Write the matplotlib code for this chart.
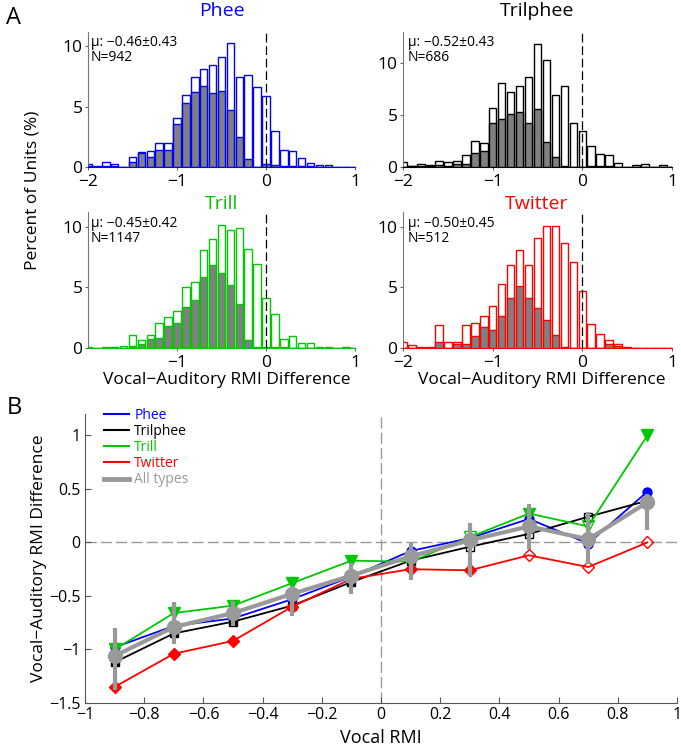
import numpy as np
import matplotlib
matplotlib.use('Agg')
import matplotlib.pyplot as plt
from matplotlib.lines import Line2D
from matplotlib.ticker import FuncFormatter

plt.rcParams['font.family'] = ['Open Sans', 'DejaVu Sans']
plt.rcParams['axes.unicode_minus'] = True

# ---- panel A: histograms of vocal-auditory RMI difference (percent of units)
bin_centers = [-2.0, -1.9, -1.8, -1.7, -1.6, -1.5, -1.4, -1.3, -1.2, -1.1,
               -1.0, -0.9, -0.8, -0.7, -0.6, -0.5, -0.4, -0.3, -0.2, -0.1,
               0.0, 0.1, 0.2, 0.3, 0.4, 0.5, 0.6, 0.7, 0.8, 0.9, 1.0]

phee_all = [0.22, 0.05, 0.44, 0.22, 0.03, 0.85, 1.27, 1.35, 2.0, 2.0, 4.05, 6.0, 7.5, 8.1, 8.5, 9.1,
            10.25, 7.5, 7.6, 6.6, 5.85, 2.95, 1.45, 1.35, 0.77, 0.36, 0.17, 0.14, 0, 0, 0]
phee_sub = [0.05, 0, 0.1, 0.05, 0, 0.44, 1.2, 0.85, 1.38, 1.38, 3.6, 5.3, 6.25, 6.75, 6.1, 6.3,
            4.7, 2.5, 0.63, 0, 0.28, 0.2, 0.05, 0.1, 0.05, 0.05, 0, 0, 0, 0, 0]
trilphee_all = [0.5, 0.05, 0.25, 0.2, 0.6, 0.45, 0.55, 1.2, 2.55, 2.35, 5.7, 8.1, 7.2, 7.8, 8.7, 11.85,
                10.3, 6.9, 7.8, 4.2, 3.5, 2.0, 1.3, 1.15, 0.35, 0, 0.15, 0.3, 0, 0.15, 0]
trilphee_sub = [0, 0.05, 0.05, 0.1, 0.2, 0.1, 0.3, 0.3, 1.35, 1.5, 4.2, 4.65, 5.1, 5.3, 4.2, 5.6,
                2.4, 0.95, 0.05, 0, 0, 0.05, 0.05, 0.05, 0, 0, 0, 0, 0, 0, 0]
trill_all = [0.1, 0.02, 0.05, 0.05, 0.2, 1.05, 0.7, 1.1, 2.1, 2.55, 3.05, 5.0, 5.45, 8.05, 8.95, 10.1,
             9.7, 9.85, 8.15, 6.9, 4.15, 2.8, 0.75, 0.95, 0.4, 0.4, 0.1, 0.05, 0, 0.1, 0]
trill_sub = [0, 0, 0, 0, 0, 0.15, 0.3, 0.77, 0.83, 1.8, 2.1, 3.4, 3.95, 5.85, 6.8, 6.2,
             5.2, 3.6, 0.7, 0.05, 0.05, 0.05, 0.05, 0, 0, 0, 0, 0, 0, 0, 0]
twitter_all = [0.5, 0.25, 0.1, 0.1, 1.9, 0.5, 0.5, 1.9, 2.1, 2.65, 3.5, 5.3, 6.85, 8.05, 6.85, 9.05,
               10.05, 10.05, 8.65, 7.1, 4.7, 1.95, 1.15, 0.7, 0.35, 0.05, 0, 0, 0, 0, 0]
twitter_sub = [0, 0, 0, 0, 0.5, 0, 0.33, 0.33, 0.95, 1.7, 1.5, 2.65, 4.1, 5.1, 4.1, 3.3,
               2.3, 1.1, 0.1, 0, 0, 0, 0, 0.3, 0.15, 0, 0, 0, 0, 0, 0]

call_names = ['Phee', 'Trilphee', 'Trill', 'Twitter']
call_colors = ['#0000ff', '#000000', '#00c800', '#ff0000']
stats_text = ['\u03bc: \u22120.46\u00b10.43\nN=942', '\u03bc: \u22120.52\u00b10.43\nN=686',
              '\u03bc: \u22120.45\u00b10.42\nN=1147', '\u03bc: \u22120.50\u00b10.45\nN=512']
hist_all = [phee_all, trilphee_all, trill_all, twitter_all]
hist_sub = [phee_sub, trilphee_sub, trill_sub, twitter_sub]
hist_ytop = [11.2, 13.0, 11.2, 11.2]
hist_xticks = [[-2, -1, 0, 1], [-2, -1, 0, 1], [-1, 0, 1], [-2, -1, 0, 1]]

# ---- panel B: RMI difference vs vocal RMI
vocal_rmi = [-0.9, -0.7, -0.5, -0.3, -0.1, 0.1, 0.3, 0.5, 0.7, 0.9]
phee_diff = [-0.98, -0.78, -0.71, -0.53, -0.32, -0.08, 0.04, 0.22, -0.01, 0.475]
trilphee_diff = [-1.12, -0.85, -0.74, -0.59, -0.37, -0.17, -0.04, 0.08, 0.24, 0.39]
trill_diff = [-1.0, -0.66, -0.59, -0.38, -0.17, -0.18, 0.05, 0.27, 0.15, 1.0]
twitter_diff = [-1.35, -1.04, -0.92, -0.6, -0.34, -0.25, -0.26, -0.12, -0.23, 0.0]
all_diff = [-1.06, -0.79, -0.66, -0.48, -0.31, -0.13, 0.02, 0.15, 0.03, 0.375]
all_lo = [-1.38, -0.95, -0.78, -0.69, -0.48, -0.35, -0.31, -0.06, -0.2, 0.12]
all_hi = [-0.8, -0.56, -0.55, -0.41, -0.19, 0.0, 0.18, 0.36, 0.28, 0.45]
# 1 = filled marker, 0 = open marker
phee_filled = [1, 1, 1, 1, 1, 1, 0, 1, 0, 1]
trilphee_filled = [1, 1, 1, 1, 1, 1, 0, 0, 0, 0]
trill_filled = [1, 1, 1, 1, 1, 1, 0, 1, 0, 1]
twitter_filled = [1, 1, 1, 1, 1, 1, 1, 0, 0, 0]

W, H = 681, 750
fig = plt.figure(figsize=(W / 100, H / 100), dpi=100)


def box(l, t, r, b):
    return [l / W, 1 - b / H, (r - l) / W, (b - t) / H]


hist_boxes = [box(88, 32, 355, 167), box(403, 32, 672, 167),
              box(88, 212, 355, 348), box(403, 212, 672, 348)]
title_pos = [(222, 11), (537, 11), (222, 204), (537, 204)]
stats_pos = [(91, 35), (408, 35), (91, 216), (408, 216)]

for i in range(4):
    ax = fig.add_axes(hist_boxes[i])
    c = call_colors[i]
    ax.bar(bin_centers, hist_all[i], width=0.085, color='white', edgecolor=c, linewidth=1.0, zorder=2)
    ax.bar(bin_centers, hist_sub[i], width=0.085, color='#808080', edgecolor=c, linewidth=1.0, zorder=3)
    ax.axvline(0, color='k', lw=0.9, dashes=(7, 3), zorder=4)
    ax.set_xlim(-2, 1)
    ax.set_ylim(0, hist_ytop[i])
    ax.set_xticks(hist_xticks[i])
    ax.set_yticks([0, 5, 10])
    ax.tick_params(labelsize=12.5, length=2, width=0.8, color='#666666', pad=2)
    ax.tick_params(axis='x', pad=3)
    ax.xaxis.set_major_formatter(FuncFormatter(lambda v, p: '%g' % v if v >= 0 else '\u2212%g' % -v))
    for s in ['top', 'right']:
        ax.spines[s].set_visible(False)
    ax.spines['left'].set_color('#777777')
    ax.spines['bottom'].set_color(c)
    fig.text(title_pos[i][0] / W, 1 - title_pos[i][1] / H, call_names[i], color=c,
             fontsize=14, ha='center', va='center')
    fig.text(stats_pos[i][0] / W, 1 - stats_pos[i][1] / H, stats_text[i], fontsize=10,
             ha='left', va='top', linespacing=1.0)

fig.text(33 / W, 1 - 190 / H, 'Percent of Units (%)', rotation=90, fontsize=12.5, ha='center', va='center')
fig.text(227 / W, 1 - 380 / H, 'Vocal\u2212Auditory RMI Difference', fontsize=12.5, ha='center', va='center')
fig.text(542 / W, 1 - 380 / H, 'Vocal\u2212Auditory RMI Difference', fontsize=12.5, ha='center', va='center')
fig.text(14 / W, 1 - 18 / H, 'A', fontsize=17, ha='center', va='center')
fig.text(14 / W, 1 - 408 / H, 'B', fontsize=17, ha='center', va='center')

# ---- panel B
axb = fig.add_axes(box(85, 414, 677, 703))
axb.axhline(0, color='#999999', lw=1, dashes=(8, 3), zorder=1)
axb.axvline(0, color='#999999', lw=1, dashes=(8, 3), zorder=1)

series = [
    (phee_diff, phee_filled, 'o', 6.5, call_colors[0]),
    (trilphee_diff, trilphee_filled, 's', 5.5, call_colors[1]),
    (trill_diff, trill_filled, 'v', 8, call_colors[2]),
    (twitter_diff, twitter_filled, 'D', 6, call_colors[3]),
]
x = np.array(vocal_rmi)
for vals, filled, mk, ms, c in series:
    vals = np.array(vals)
    filled = np.array(filled, dtype=bool)
    axb.plot(x, vals, color=c, lw=1.3, zorder=2)
    axb.plot(x[filled], vals[filled], ls='none', marker=mk, ms=ms, color=c, mfc=c, mec=c, zorder=2)
    axb.plot(x[~filled], vals[~filled], ls='none', marker=mk, ms=ms, color=c, mfc='none', mec=c,
             mew=1.0, zorder=2)

gray = '#999999'
all_diff_a = np.array(all_diff)
yerr = [all_diff_a - np.array(all_lo), np.array(all_hi) - all_diff_a]
axb.errorbar(x, all_diff_a, yerr=yerr, color=gray, lw=3, elinewidth=3, capsize=0,
             marker='o', ms=10, mfc=gray, mec=gray, zorder=5)

axb.set_xlim(-1, 1)
axb.set_ylim(-1.5, 1.2)
axb.set_xticks([-1, -0.8, -0.6, -0.4, -0.2, 0, 0.2, 0.4, 0.6, 0.8, 1])
axb.set_yticks([-1.5, -1, -0.5, 0, 0.5, 1])
fmt = FuncFormatter(lambda v, p: ('%g' % v).replace('-', '\u2212'))
axb.xaxis.set_major_formatter(fmt)
axb.yaxis.set_major_formatter(fmt)
axb.tick_params(direction='in', length=4, width=0.8, color='#555555', labelsize=11.5, pad=3)
for s in ['top', 'right']:
    axb.spines[s].set_visible(False)
for s in ['left', 'bottom']:
    axb.spines[s].set_color('#555555')
axb.set_xlabel('Vocal RMI', fontsize=13, labelpad=4)
axb.set_ylabel('Vocal\u2212Auditory RMI Difference', fontsize=12.5, labelpad=2)

handles = [Line2D([], [], color=c, lw=1.5) for c in call_colors]
handles.append(Line2D([], [], color=gray, lw=3.5))
axb.legend(handles, call_names + ['All types'], loc='upper left', frameon=False, fontsize=10,
           labelcolor='linecolor', handlelength=1.8, handletextpad=0.4, labelspacing=0.08,
           borderaxespad=0.0, bbox_to_anchor=(0.022, 1.04))

fig.savefig('out.png', dpi=100)
